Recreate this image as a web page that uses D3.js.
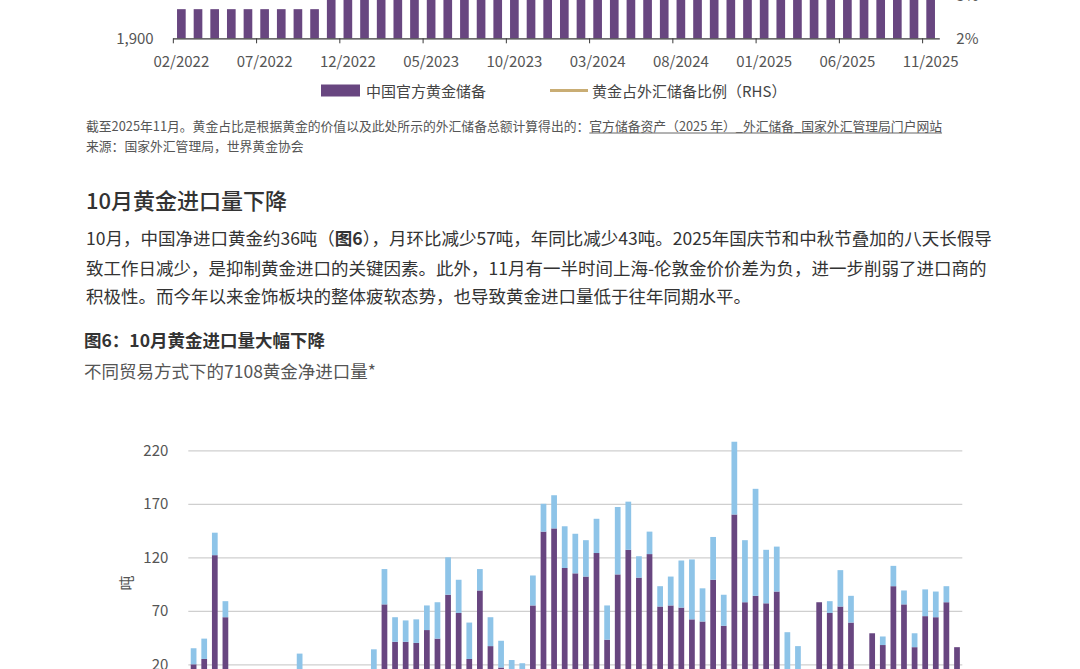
<!DOCTYPE html>
<html><head><meta charset="utf-8">
<script src="https://cdn.jsdelivr.net/npm/d3@7"></script>
<style>html,body{margin:0;padding:0;background:#fff;overflow:hidden;} svg{display:block;}</style>
</head><body><div id="chart"></div>
<script>
// ---------- Top chart data: China official gold reserves (tonnes) ----------
const reserveMonths = ["02/2022","03/2022","04/2022","05/2022","06/2022","07/2022","08/2022","09/2022","10/2022","11/2022","12/2022",
  "01/2023","02/2023","03/2023","04/2023","05/2023","06/2023","07/2023","08/2023","09/2023","10/2023","11/2023","12/2023",
  "01/2024","02/2024","03/2024","04/2024","05/2024","06/2024","07/2024","08/2024","09/2024","10/2024","11/2024","12/2024",
  "01/2025","02/2025","03/2025","04/2025","05/2025","06/2025","07/2025","08/2025","09/2025","10/2025","11/2025"];
const reserveTonnes = [1948,1948,1948,1948,1948,1948,1948,1948,1948,1980,2010,
  2025,2050,2068,2076,2092,2113,2136,2165,2191,2215,2226,2235,
  2245,2257,2262,2264,2264,2264,2264,2264,2264,2264,2269,2280,
  2285,2290,2292,2294,2296,2298,2299,2301,2302,2303,2305];
const goldSharePct = [3.2,3.3,3.3,3.4,3.4,3.3,3.3,3.3,3.3,3.6,3.6,
  3.8,3.8,4.0,4.0,4.1,4.1,4.3,4.3,4.4,4.6,4.6,4.6,
  4.6,4.9,5.3,5.4,5.3,5.4,5.5,5.5,5.9,5.5,5.4,5.5,
  5.9,6.0,6.5,6.8,6.8,6.9,7.0,7.5,8.0,8.2,8.3];
const topTickLabels = ["02/2022","07/2022","12/2022","05/2023","10/2023","03/2024","08/2024","01/2025","06/2025","11/2025"];
const topLeftTicks = [1900];          // higher ticks lie above the visible crop
const topRightTicks = [2, 3];
const topLegend = ["中国官方黄金储备","黄金占外汇储备比例（RHS）"];

// ---------- Bottom chart data: net imports of 7108 gold by trade mode (tonnes) ----------
const importMonths = ["2019-10","2019-11","2019-12",
  "2020-01","2020-02","2020-03","2020-04","2020-05","2020-06","2020-07","2020-08","2020-09","2020-10","2020-11","2020-12",
  "2021-01","2021-02","2021-03","2021-04","2021-05","2021-06","2021-07","2021-08","2021-09","2021-10","2021-11","2021-12",
  "2022-01","2022-02","2022-03","2022-04","2022-05","2022-06","2022-07","2022-08","2022-09","2022-10","2022-11","2022-12",
  "2023-01","2023-02","2023-03","2023-04","2023-05","2023-06","2023-07","2023-08","2023-09","2023-10","2023-11","2023-12",
  "2024-01","2024-02","2024-03","2024-04","2024-05","2024-06","2024-07","2024-08","2024-09","2024-10","2024-11","2024-12",
  "2025-01","2025-02","2025-03","2025-04","2025-05","2025-06","2025-07","2025-08","2025-09","2025-10"];
const generalTrade = [20,25,122,
  64,5,3,4,2,4,3,8,4,3,5,4,
  6,5,8,76,41,41,40,52,44,85,68,25,
  89,37,17,10,10,75,144,147,110,105,102,124,
  43,104,127,101,123,74,75,73,62,60,99,56,
  160,78,84,77,88,10,8,6,78,68,74,59,
  5,49,38,93,76,36,65,64,78,36];
const otherTrade = [15,19,21,
  15,3,3,3,3,5,5,22,6,5,5,5,
  5,5,26,33,23,20,22,23,34,35,31,34,
  20,27,25,14,11,28,26,31,39,37,34,32,
  32,63,45,20,21,19,27,44,56,31,40,29,
  68,58,100,50,42,40,29,4,0,11,34,25,
  3,0,8,19,13,13,25,24,15,0];
const bottomTicks = [20,70,120,170,220];
const bottomTexts = {
  heading: "10月黄金进口量下降",
  title: "图6：10月黄金进口量大幅下降",
  subtitle: "不同贸易方式下的7108黄金净进口量*",
  yLabel: "吨"
};

const W = 1080, H = 669;
const FONT = "'Noto Sans CJK SC','Noto Sans',sans-serif";
const PURPLE = "#684680", LIGHT = "#8ec4e8", TAN = "#c9ad74";

const svg = d3.select("#chart").append("svg").attr("width", W).attr("height", H)
  .style("font-family", FONT);

// ================= TOP CHART =================
const xTop = d3.scaleBand().domain(reserveMonths).range([172.7, 939.3]).paddingInner(0.48).paddingOuter(0.26);
const yTop = d3.scaleLinear().domain([1900, 2400]).range([38.3, 38.3 - 500 * 0.607]);
const yRight = d3.scaleLinear().domain([2, 8]).range([38.3, 38.3 - 6 * 42.5]);

const gTop = svg.append("g");
gTop.selectAll("rect.res").data(reserveMonths).join("rect")
  .attr("class", "res")
  .attr("x", d => xTop(d))
  .attr("width", xTop.bandwidth())
  .attr("y", (d, i) => yTop(reserveTonnes[i]))
  .attr("height", (d, i) => yTop(1900) - yTop(reserveTonnes[i]))
  .attr("fill", PURPLE);

const shareLine = d3.line().x((d, i) => xTop(reserveMonths[i]) + xTop.bandwidth() / 2).y(d => yRight(d));
gTop.append("path").datum(goldSharePct).attr("d", shareLine)
  .attr("fill", "none").attr("stroke", TAN).attr("stroke-width", 2.5);

const axTop = gTop.append("g").attr("transform", "translate(0,38.3)")
  .call(d3.axisBottom(xTop).tickValues(topTickLabels).tickSize(5).tickSizeOuter(0));
axTop.select(".domain").attr("stroke", "#3a3a3a").attr("stroke-width", 1.2);
axTop.selectAll(".tick line").attr("stroke", "#3a3a3a")
  .attr("transform", `translate(${-xTop.step() / 2 + 0.3},0)`);
axTop.selectAll(".tick text").attr("y", 23).attr("dy", "0.35em")
  .attr("font-size", 15).attr("fill", "#555").style("font-family", FONT);

const axTopL = gTop.append("g").attr("transform", "translate(172.7,0)")
  .call(d3.axisLeft(yTop).tickValues(topLeftTicks).tickFormat(d3.format(",")).tickSize(0).tickPadding(19));
axTopL.select(".domain").remove();
axTopL.selectAll(".tick text").attr("font-size", 15).attr("fill", "#555").style("font-family", FONT);

const axTopR = gTop.append("g").attr("transform", "translate(939.3,0)")
  .call(d3.axisRight(yRight).tickValues(topRightTicks).tickFormat(d => d + "%").tickSize(0).tickPadding(17));
axTopR.select(".domain").remove();
axTopR.selectAll(".tick text").attr("font-size", 15).attr("fill", "#555").style("font-family", FONT);

// legend
gTop.append("rect").attr("x", 321).attr("y", 84.5).attr("width", 39).attr("height", 12).attr("fill", PURPLE);
gTop.append("text").attr("x", 366).attr("y", 90.5).attr("dominant-baseline", "central")
  .attr("font-size", 15).attr("fill", "#444").text(topLegend[0]);
gTop.append("line").attr("x1", 550).attr("x2", 588).attr("y1", 90.5).attr("y2", 90.5)
  .attr("stroke", TAN).attr("stroke-width", 3);
gTop.append("text").attr("x", 592).attr("y", 90.5).attr("dominant-baseline", "central")
  .attr("font-size", 15).attr("fill", "#444").text(topLegend[1]);

// notes
const note1 = svg.append("text").attr("x", 86).attr("y", 125).attr("dominant-baseline", "central")
  .attr("font-size", 12.8).attr("fill", "#555");
note1.append("tspan").text("截至2025年11月。黄金占比是根据黄金的价值以及此处所示的外汇储备总额计算得出的：");
const link = note1.append("tspan").text("官方储备资产（2025 年）_外汇储备_国家外汇管理局门户网站");
svg.append("text").attr("x", 86).attr("y", 145).attr("dominant-baseline", "central")
  .attr("font-size", 12.8).attr("fill", "#555").text("来源：国家外汇管理局，世界黄金协会");

// ================= ARTICLE TEXT =================
svg.append("text").attr("x", 86).attr("y", 199).attr("dominant-baseline", "central")
  .attr("font-size", 22).attr("font-weight", 500).attr("fill", "#333").text(bottomTexts.heading);

const pLines = [
  [["10月，中国净进口黄金约36吨（", 400], ["图6", 700], ["），月环比减少57吨，年同比减少43吨。2025年国庆节和中秋节叠加的八天长假导", 400]],
  [["致工作日减少，是抑制黄金进口的关键因素。此外，11月有一半时间上海-伦敦金价价差为负，进一步削弱了进口商的", 400]],
  [["积极性。而今年以来金饰板块的整体疲软态势，也导致黄金进口量低于往年同期水平。", 400]]
];
const pY = [237, 266.5, 295];
pLines.forEach((ln, i) => {
  const t = svg.append("text").attr("x", 86).attr("y", pY[i]).attr("dominant-baseline", "central")
    .attr("font-size", 17.5).attr("fill", "#333");
  ln.forEach(([s, w]) => t.append("tspan").attr("font-weight", w).text(s));
});

svg.append("text").attr("x", 84).attr("y", 339).attr("dominant-baseline", "central")
  .attr("font-size", 17.5).attr("font-weight", 700).attr("fill", "#333").text(bottomTexts.title);
svg.append("text").attr("x", 84).attr("y", 370).attr("dominant-baseline", "central")
  .attr("font-size", 17.5).attr("fill", "#555").text(bottomTexts.subtitle);

// ================= BOTTOM CHART =================
const xB = d3.scaleBand().domain(importMonths).range([188.3, 962.3]).paddingInner(0.46).paddingOuter(0.23);
const yB = d3.scaleLinear().domain([-30, 220]).range([717.8, 450.3]);

const gB = svg.append("g");
const yAxB = gB.append("g").attr("transform", "translate(188.3,0)")
  .call(d3.axisLeft(yB).tickValues(bottomTicks).tickSize(-774).tickPadding(20));
yAxB.select(".domain").remove();
yAxB.selectAll(".tick line").attr("stroke", "#cfcfcf").attr("stroke-width", 1.2);
yAxB.selectAll(".tick text").attr("font-size", 15).attr("fill", "#555").style("font-family", FONT);

const table = importMonths.map((m, i) => ({ m, general: generalTrade[i], other: otherTrade[i] }));
const stack = d3.stack().keys(["general", "other"])(table);
const colors = { general: PURPLE, other: LIGHT };
gB.selectAll("g.series").data(stack).join("g").attr("class", "series")
  .attr("fill", d => colors[d.key])
  .selectAll("rect").data(d => d).join("rect")
  .attr("x", d => xB(d.data.m))
  .attr("width", xB.bandwidth())
  .attr("y", d => yB(d[1]))
  .attr("height", d => Math.max(0, yB(d[0]) - yB(d[1])));

gB.append("text").attr("transform", "translate(125,583) rotate(-90)")
  .attr("text-anchor", "middle").attr("dominant-baseline", "central")
  .attr("font-size", 15).attr("fill", "#555").text(bottomTexts.yLabel);

// underline for the link (measured after layout)
const ext = link.node();
try {
  const start = ext.getStartPositionOfChar(0).x;
  const n = ext.getNumberOfChars();
  const endPos = ext.getEndPositionOfChar(n - 1).x;
  svg.append("line").attr("x1", start).attr("x2", endPos).attr("y1", 133).attr("y2", 133)
    .attr("stroke", "#666").attr("stroke-width", 1);
} catch (e) {}
</script></body></html>
